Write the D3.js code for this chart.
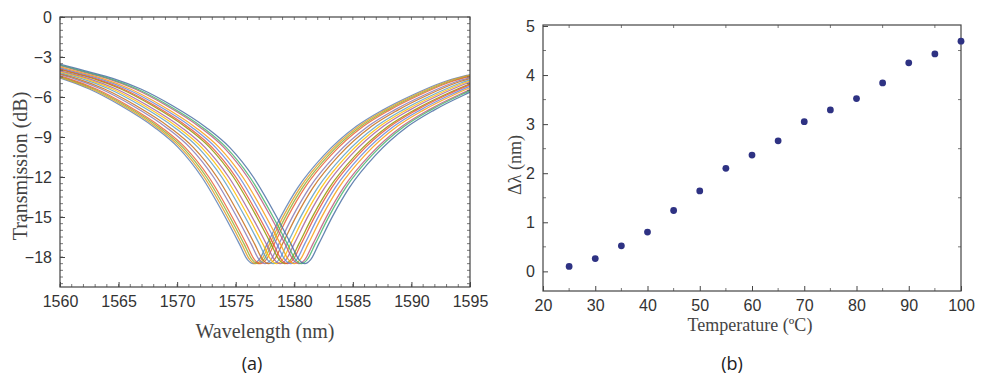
<!DOCTYPE html>
<html>
<head>
<meta charset="utf-8">
<script src="https://cdn.jsdelivr.net/npm/d3@7"></script>
<style>
  body { margin: 0; background: #fff; }
  .title { font-family: "Liberation Serif", "Times New Roman", serif; font-size: 20px; fill: #444; }
  .cap { font-family: "Open Sans", sans-serif; font-size: 18px; fill: #222; }
</style>
</head>
<body>
<svg id="fig" width="981" height="377"></svg>
<script>
// (b) temperature vs shift
var temps = [25, 30, 35, 40, 45, 50, 55, 60, 65, 70, 75, 80, 85, 90, 95, 100];
var shifts = [0.10, 0.26, 0.52, 0.80, 1.24, 1.64, 2.10, 2.37, 2.66, 3.05, 3.29, 3.52, 3.84, 4.25, 4.43, 4.69];

// (a) one dip profile: offset from dip (nm) -> dB
var profileOffset = [-22, -21.2, -18.5, -16.4, -14, -11.4, -8.4, -6.4, -4.4, -2.4, -1.2, -0.5, 0, 0.5, 1.2, 2.4, 3.8, 6, 8.8, 11, 13.6, 16, 18.6, 20];
var profileDb = [-3.4, -3.5, -4.1, -4.6, -5.4, -6.6, -8.3, -9.8, -12.0, -15.0, -17.0, -18.2, -18.5, -18.2, -17.0, -14.9, -12.8, -10.4, -8.2, -7.0, -5.85, -4.95, -4.3, -4.0];
// dip wavelength of each trace (nm), one per temperature
var dipNm = [1576.5, 1576.7, 1576.9, 1577.1, 1577.5, 1577.8, 1578.2, 1578.5, 1578.8, 1579.2, 1579.4, 1579.7, 1580.0, 1580.4, 1580.6, 1580.9];

var palette = ["#5e81b5", "#e19c24", "#8fb032", "#eb6235", "#8778b3", "#c56e1a", "#5d9ec7", "#ffbf00",
               "#a5609d", "#929600", "#e95536", "#6685d9", "#f89f13", "#bc5b80", "#47b66d", "#4a6fa5"];

var svg = d3.select("#fig");

function frame(g, x, y, xMinor, yMinor) {
  var w = x.range()[1] - x.range()[0], h = y.range()[0] - y.range()[1];
  // minor ticks on all sides
  var minor = g.append("g").attr("stroke", "#555").attr("stroke-width", 0.8);
  xMinor.forEach(function(v) {
    minor.append("line").attr("x1", x(v)).attr("x2", x(v)).attr("y1", h).attr("y2", h - 3);
    minor.append("line").attr("x1", x(v)).attr("x2", x(v)).attr("y1", 0).attr("y2", 3);
  });
  yMinor.forEach(function(v) {
    minor.append("line").attr("y1", y(v)).attr("y2", y(v)).attr("x1", 0).attr("x2", 3);
    minor.append("line").attr("y1", y(v)).attr("y2", y(v)).attr("x1", w).attr("x2", w - 3);
  });
  g.append("rect").attr("width", w).attr("height", h)
    .attr("fill", "none").attr("stroke", "#444").attr("stroke-width", 1.2);
}

function styleAxis(g) {
  g.select(".domain").remove();
  g.selectAll("line").attr("stroke", "#444");
  g.selectAll("text")
    .attr("font-family", "'Liberation Sans', Arial, sans-serif")
    .attr("font-size", 16)
    .attr("fill", "#333");
}

// ---------- panel (a)
var ma = {left: 60, top: 17}, wa = 410, ha = 270;
var ga = svg.append("g").attr("transform", "translate(" + ma.left + "," + ma.top + ")");
var xa = d3.scaleLinear().domain([1560, 1595]).range([0, wa]);
var ya = d3.scaleLinear().domain([-20.25, 0]).range([ha, 0]);

var clip = ga.append("clipPath").attr("id", "clipa");
clip.append("rect").attr("width", wa).attr("height", ha);

var line = d3.line()
  .x(function(d) { return xa(d[0]); })
  .y(function(d) { return ya(d[1]); })
  .curve(d3.curveMonotoneX);

ga.append("g").attr("clip-path", "url(#clipa)")
  .selectAll("path")
  .data(dipNm)
  .enter().append("path")
  .attr("fill", "none")
  .attr("stroke", function(d, i) { return palette[i]; })
  .attr("stroke-width", 1.3)
  .attr("stroke-opacity", 0.85)
  .attr("d", function(dip) {
    return line(profileOffset.map(function(o, j) { return [dip + o, profileDb[j]]; }));
  });

frame(ga, xa, ya, d3.range(1560, 1596, 1), d3.range(-20, 0.01, 0.5));

ga.append("g").attr("transform", "translate(0," + ha + ")")
  .call(d3.axisBottom(xa).tickValues(d3.range(1560, 1596, 5)).tickSize(-5).tickPadding(9).tickFormat(d3.format("d")))
  .call(styleAxis);
ga.append("g")
  .call(d3.axisLeft(ya).tickValues(d3.range(-18, 0.1, 3)).tickSize(-5).tickPadding(8).tickFormat(d3.format("d")))
  .call(styleAxis);

svg.append("text").attr("class", "title").attr("x", 265).attr("y", 338).attr("text-anchor", "middle").text("Wavelength (nm)");
svg.append("text").attr("class", "title").attr("transform", "translate(27,166) rotate(-90)").attr("text-anchor", "middle").text("Transmission (dB)");
svg.append("text").attr("class", "cap").attr("x", 252).attr("y", 370).attr("text-anchor", "middle").text("(a)");

// ---------- panel (b)
var mb = {left: 543, top: 25}, wb = 418, hb = 266;
var gb = svg.append("g").attr("transform", "translate(" + mb.left + "," + mb.top + ")");
var xb = d3.scaleLinear().domain([20, 100]).range([0, wb]);
var yb = d3.scaleLinear().domain([-0.4, 5.02]).range([hb, 0]);

frame(gb, xb, yb, d3.range(25, 100, 10), d3.range(-0.5, 5, 1).filter(function(v) { return v > -0.4; }));

gb.append("g").attr("transform", "translate(0," + hb + ")")
  .call(d3.axisBottom(xb).tickValues(d3.range(20, 101, 10)).tickSize(-5).tickPadding(9).tickFormat(d3.format("d")))
  .call(styleAxis);
gb.append("g")
  .call(d3.axisLeft(yb).tickValues(d3.range(0, 5.1, 1)).tickSize(-5).tickPadding(8).tickFormat(d3.format("d")))
  .call(styleAxis);

gb.selectAll(".dot")
  .data(temps)
  .enter().append("circle")
  .attr("class", "dot")
  .attr("cx", function(d) { return xb(d); })
  .attr("cy", function(d, i) { return yb(shifts[i]); })
  .attr("r", 3.4)
  .attr("fill", "#2e3283");

svg.append("text").attr("class", "title").attr("x", 750).attr("y", 331).attr("text-anchor", "middle").style("font-size", "18px").text("Temperature (ºC)");
svg.append("text").attr("class", "title").attr("transform", "translate(521,165) rotate(-90)").attr("text-anchor", "middle").style("font-size", "18px").text("Δλ (nm)");
svg.append("text").attr("class", "cap").attr("x", 732).attr("y", 370).attr("text-anchor", "middle").text("(b)");
</script>
</body>
</html>
